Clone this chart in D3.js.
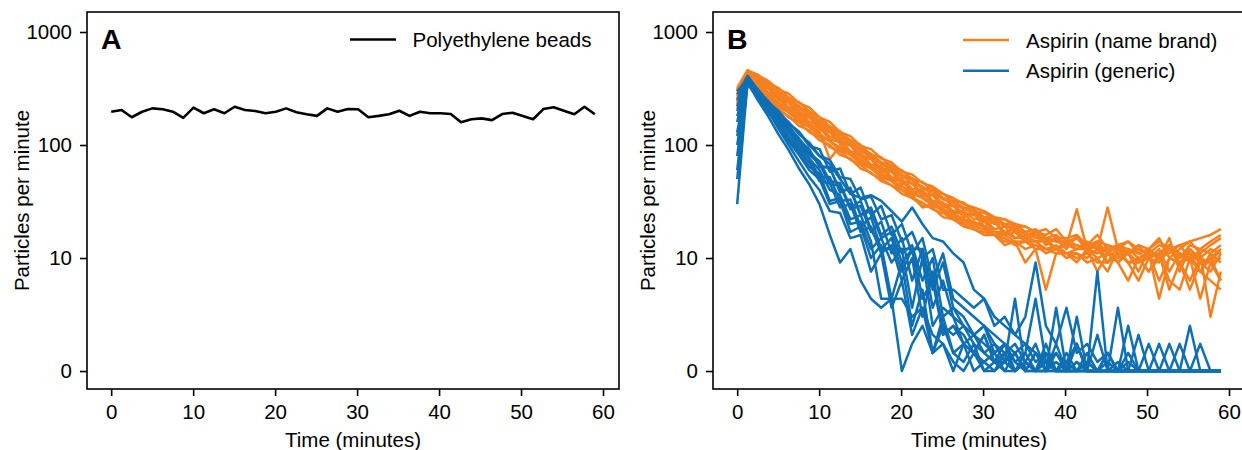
<!DOCTYPE html>
<html><head><meta charset="utf-8">
<script src="https://cdn.jsdelivr.net/npm/d3@7"></script>
<style>body{margin:0;background:#fff}svg{display:block}text{font-family:"Liberation Sans",Arial,sans-serif}</style>
</head><body><svg id="c" width="1242" height="450"></svg>
<script>
const times = [0,1.26,2.51,3.77,5.02,6.28,7.53,8.79,10.04,11.30,12.55,13.81,15.06,16.32,17.57,18.83,20.09,21.34,22.60,23.85,25.11,26.36,27.62,28.87,30.13,31.38,32.64,33.89,35.15,36.40,37.66,38.91,40.17,41.43,42.68,43.94,45.19,46.45,47.70,48.96,50.21,51.47,52.72,53.98,55.23,56.49,57.74,59.00];
const xTicks = [0,10,20,30,40,50,60];
const yTicks = [0,10,100,1000];
const yTickLabels = ["0","10","100","1000"];

const beads = [197,204,176,197,211,207,197,174,214,191,207,191,218,204,200,191,197,211,195,187,181,211,197,208,207,176,181,187,201,181,197,191,191,188,159,169,172,166,188,193,181,169,208,216,201,187,218,187];

const nameBrand = [
[270,420,345,318,250,236,184,175,138,130, 102,99,78,75,58,58,45,46,35,36, 28,29,23,25,19,21,16,19,14,17, 13,15,12,16,11,14,9.6,13,11,8.8, 12,10,15,8.8,12,9.6,8.8,11],
[300,450,420,350,320,262,240,198,175,146, 132,110,100,82,78,64,60,50,47,40, 37,32,31,26,25,22,22,19,19,17, 16,18,14,15,13,16,12,13,14,11, 12,15,10,12,14,11,13,15],
[230,380,300,245,212,175,160,130,118,96, 88,74,67,56,50,44,40,34,31,27, 25,22,20,18,17,16,14,14,12,13, 11,12,10,11,9.6,10,8.8,12,9.6,8, 10,11,7.2,9.6,10,6.4,9.6,8],
[310,440,380,320,290,240,222,178,165,132, 124,100,94,76,70,58,55,45,43,36, 34,29,28,24,23,20,20,17,17,15, 15,14,13,13,12,13,11,10,12,11, 10,9.6,12,10,11,8.8,10,12],
[250,400,330,280,238,205,178,150,132,75, 98,86,74,64,56,50,43,39,34,31, 27,25,22,21,19,17,16,17,14,14, 12,13,11,12,12,10,11,9.6,12,10, 8.8,10,12,9.6,8,10,9.6,10],
[320,460,415,370,310,285,235,215,176,160, 130,120,98,92,76,70,58,55,46,43, 37,34,30,28,26,23,22,20,19,17, 18,15,15,16,13,14,13,12,14,12, 11,13,12,10,13,12,14,16],
[280,410,350,282,260,205,190,152,142,112, 106,86,80,64,62,50,48,39,38,31, 30,25,25,20,21,17,17,15,15,14, 14,12,13,27,12,11,12,9.6,11,9.6, 10,12,8.8,11,10,8.8,11,9.6],
[220,370,290,245,200,180,148,135,110,100, 82,76,62,57,48,44,37,34,29,28, 23,22,19,18,16,16,13,14,9.6,12, 7.2,11,11,9.6,12,8.8,11,9.6,8,10, 8.8,11,8,7.2,10,8.8,8,7.2],
[290,430,360,325,265,240,196,180,148,133, 110,100,82,76,62,60,48,46,37,37, 30,29,25,24,21,21,17,18,15,16, 14,15,13,12,14,12,28,12,11,13, 10,11,13,10,12,10,12,11],
[240,395,320,268,232,196,172,146,126,108, 95,82,72,62,55,48,43,37,34,29, 27,24,22,20,19,16,16,14,14,13, 12,12,11,11,10,12,9.6,11,9.6,10, 11,6.4,10,9.6,11,9.6,9.6,12],
[300,445,395,345,296,262,218,196,162,146, 122,110,92,84,70,66,54,51,42,41, 34,32,28,27,23,23,20,20,17,18, 15,16,13,15,12,14,11,13,12,11, 12,10,11,13,10,11,4.8,8.8],
[260,415,360,292,268,215,200,160,150,118, 112,88,85,67,65,52,50,41,40,32, 31,26,26,22,22,18,19,15,16,14, 15,12,14,12,13,12,12,13,11,13, 12,14,12,13,14,15,16,18],
[240,385,315,262,220,194,162,144,120,108, 90,82,68,62,52,48,40,36,28,30, 26,23,21,19,18,16,15,13,14,12, 12,11,11,10,11,9.6,9.6,11,9.6,9.6, 11,8,10,9.6,7.2,9.6,10,8],
[210,425,375,335,280,250,210,188,155,140, 116,106,88,80,68,62,52,49,41,39, 33,31,27,26,22,22,19,19,16,17, 15,14,14,13,12,11,13,12,11,12, 11,10,13,11,9.6,12,11,13]
];

const generic = [
[30,360,250,180,125,90,62,45,30,16, 9.6,12,8,6.4,5.6,6.4,0,2.4,4,1.6, 2.4,0.8,0,1.6,0,0,0.8,1.6,0,0, 0,2.4,0,0,0.8,0,0,0,0,0, 0,0,0,0,0,0,0,0],
[50,380,275,200,140,100,72,52,40,26, 25,15,16,8.8,11,5.6,8,3.2,5.6,1.6, 4,1.6,0.8,2.4,0,0.8,0,1.6,0,0, 0.8,0,0,4.8,0,0,0.8,0,0,0, 0,0,0,0,0,0,0,0],
[80,390,290,215,160,120,92,70,48,46, 28,30,17,19,11,13,8,10,4.8,8.8, 3.2,4,2.4,3.2,1.6,0.8,2.4,0,0.8,2.4, 0,0,1.6,0,0.8,0,0,0,0,0, 0,0,2.4,0,0,0,0,0],
[100,370,280,205,150,112,88,64,56,32, 34,20,21,12,15,9.6,12,5.6,10,4, 5.6,4.8,2.4,1.6,3.2,0.8,1.6,0,0.8,0, 0,1.6,0,0,0,0,0,0.8,0,0, 0,0,0,0,4,0,0,0],
[130,385,300,225,170,130,100,76,52,52, 32,33,19,23,12,15,8.8,12,6.4,8, 4,3.2,4,2.4,1.6,2.4,0.8,0,1.6,6.4, 0.8,0,0,2.4,0,0,0,0,0,0, 0,0,0,0,0,0,0,0],
[160,400,305,230,175,138,104,82,68,45, 44,27,29,17,21,11,15,8,12,5.6, 8,4.8,4,3.2,2.4,1.6,2.4,0.8,1.6,0, 0.8,0,0,0,0,0,1.6,0,0,0, 2.4,0,0,0,0,0,0,0],
[200,375,300,235,185,140,112,85,72,48, 46,28,32,18,12,12,12,12,12,7.2, 9.6,5.6,4.8,3.2,4,2.4,1.6,2.4,0.8,0, 1.6,0,0.8,2.4,0,0,1.6,0,0,0, 0,0,0,0,0,0,0,0],
[250,395,295,245,180,150,110,92,64,64, 38,42,24,28,16,19,11,13,8,10, 4.8,5.6,4,3.2,4,1.6,2.4,0.8,0,1.6, 0,0.8,0,0,0,0,0,5.6,0,0, 0,0,0,0,0,0,0,0],
[300,380,310,240,200,155,130,98,92,58, 62,37,42,24,29,16,20,11,15,8, 11,6.4,5.6,4.8,4,3.2,2.4,1.6,2.4,0.8, 1.6,0,0.8,0,0,0,0,0,0,0, 0,2.4,0,0,0,0,0,0],
[180,360,295,245,190,160,125,105,80,68, 50,37,34,36,32,26,21,28,20,15, 14,11,9.6,7.2,6.4,4.8,4,3.2,2.4,1.6, 0.8,1.6,0,0.8,0,3.2,0,0,1.6,0, 0,0,0,0,0,0,0,0],
[120,350,300,235,200,155,132,100,80,74, 52,50,33,35,22,24,14,17,10,12, 7.2,7.2,6.4,5.6,6.4,4,4.8,3.2,4.8,9.6, 4,2.4,5.6,1.6,2.4,0.8,1.6,0,0.8,0, 0,0,0,0,0,0,0,0],
[60,345,265,195,150,108,82,60,50,30, 32,17,19,10,13,6.4,9.6,4,7.2,1.6, 4.8,1.6,2.4,0,0.8,1.6,0,0,0.8,0, 0,0,0,2.4,0,8.8,0,0,0,0, 0,0,0,0,0,0,0,0],
[220,400,305,225,170,132,98,76,60,40, 36,22,24,14,6.4,6.4,6.4,4.8,5.6,3.2, 2.4,0,2.4,1.6,0.8,0,1.6,0,0.8,0, 2.4,0,0,0,1.6,0,0,0,0,3.2, 0,0,0,0,0,2.4,0,0],
[280,410,310,240,185,145,115,88,66,62, 40,40,24,26,15,17,9.6,12,6.4,8, 3.2,4,3.2,1.6,3.2,0.8,0.8,6.4,0,1.6, 0,5.6,0,0.8,0,0,0,0,4,0, 0,0,0,2.4,0,0,0,0]
];

const colors = {beads:"#000000", name:"#f5801f", generic:"#0f6fb4"};

const svg = d3.select("#c");
const FS = 20.5;
const plotTop = 12, plotBottom = 389;
const panels = [{left:87, right:619, label:"A"}, {left:713, right:1245, label:"B"}];
// symmetric-log transform: linear below 10, log above
const sym = v => v <= 10 ? v / 10 : 1 + Math.log10(v / 10);

function makePanel(p) {
  const g = svg.append("g");
  const x = d3.scaleLinear().domain([-2.95, 61.95]).range([p.left, p.right]);
  const yl = d3.scaleLinear().domain([-0.159, 3.177]).range([plotBottom, plotTop]);
  const y = v => yl(sym(v));
  const xa = g.append("g").attr("transform", `translate(0,${plotBottom})`)
    .call(d3.axisBottom(x).tickValues(xTicks).tickFormat(d3.format("d")).tickSize(7).tickPadding(8));
  const ya = g.append("g").attr("transform", `translate(${p.left},0)`)
    .call(d3.axisLeft(yl).tickValues(yTicks.map(sym)).tickFormat((d, i) => yTickLabels[i]).tickSize(7).tickPadding(8));
  [xa, ya].forEach(a => {
    a.select(".domain").remove();
    a.selectAll("line").attr("stroke", "#000").attr("stroke-width", 1.6);
    a.selectAll("text").attr("font-size", FS).attr("fill", "#000").attr("font-family", '"Liberation Sans",Arial,sans-serif');
  });
  g.append("rect").attr("x", p.left).attr("y", plotTop).attr("width", p.right - p.left).attr("height", plotBottom - plotTop)
    .attr("fill", "none").attr("stroke", "#000").attr("stroke-width", 1.6);
  g.append("text").attr("x", (p.left + p.right) / 2).attr("y", 447).attr("text-anchor", "middle")
    .attr("font-size", FS).text("Time (minutes)");
  g.append("text").attr("transform", `translate(${p.left - 58},${(plotTop + plotBottom) / 2}) rotate(-90)`)
    .attr("text-anchor", "middle").attr("font-size", FS).text("Particles per minute");
  g.append("text").attr("x", p.left + 14).attr("y", 48.5).attr("font-size", 28.5).attr("font-weight", "bold").text(p.label);
  return {g, x, y};
}

const line = (x, y) => d3.line().x((d, i) => x(times[i])).y(d => y(d));

const A = makePanel(panels[0]);
A.g.append("path").datum(beads).attr("d", line(A.x, A.y)).attr("fill", "none")
  .attr("stroke", colors.beads).attr("stroke-width", 2.6).attr("stroke-linejoin", "round");
A.g.append("line").attr("x1", 350).attr("x2", 396).attr("y1", 39.5).attr("y2", 39.5).attr("stroke", colors.beads).attr("stroke-width", 2.6);
A.g.append("text").attr("x", 412.5).attr("y", 47).attr("font-size", FS).text("Polyethylene beads");

const B = makePanel(panels[1]);
const lb = line(B.x, B.y);
B.g.selectAll("path.nb").data(nameBrand).join("path").attr("class", "nb").attr("d", lb)
  .attr("fill", "none").attr("stroke", colors.name).attr("stroke-width", 2.5).attr("stroke-linejoin", "round");
B.g.selectAll("path.gn").data(generic).join("path").attr("class", "gn").attr("d", lb)
  .attr("fill", "none").attr("stroke", colors.generic).attr("stroke-width", 2.5).attr("stroke-linejoin", "round");
const leg = [{c: colors.name, t: "Aspirin (name brand)", y: 40}, {c: colors.generic, t: "Aspirin (generic)", y: 70.7}];
leg.forEach(l => {
  B.g.append("line").attr("x1", 963).attr("x2", 1009).attr("y1", l.y).attr("y2", l.y).attr("stroke", l.c).attr("stroke-width", 2.6);
  B.g.append("text").attr("x", 1026).attr("y", l.y + 7.7).attr("font-size", FS).text(l.t);
});
</script></body></html>
